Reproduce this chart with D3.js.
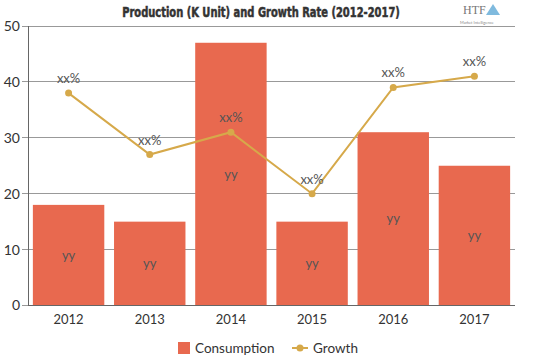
<!DOCTYPE html>
<html><head><meta charset="utf-8">
<script src="https://cdn.jsdelivr.net/npm/d3@7/dist/d3.min.js"></script>
<style>body{margin:0;background:#fff}svg{display:block}</style>
</head><body><svg id="c" width="539" height="359"></svg>
<script>
const categories = ["2012","2013","2014","2015","2016","2017"];
const consumption = [18,15,47,15,31,25];
const growth = [38,27,31,20,39,41];
const yTicks = [0,10,20,30,40,50];
const barLabels = ["yy","yy","yy","yy","yy","yy"];
const growthLabels = ["xx%","xx%","xx%","xx%","xx%","xx%"];

(function(){
const svg = d3.select("#c");
const pL = 28, pR = 515, pT = 26, pB = 305.5;
const x = d3.scaleBand().domain(categories).range([pL,pR]).paddingInner(0.12).paddingOuter(0.06);
const y = d3.scaleLinear().domain([0,50]).range([pB,pT]);
const barColor = "#e8694f", lineColor = "#d6a94a";
const font = "Lato, 'Open Sans', sans-serif";

svg.append("g").selectAll("line").data(yTicks).join("line")
  .attr("x1",22).attr("x2",pR).attr("y1",d=>y(d)).attr("y2",d=>y(d))
  .attr("stroke","#999").attr("stroke-width",1).attr("shape-rendering","crispEdges");
svg.append("g").selectAll("text").data(yTicks).join("text")
  .attr("x",20).attr("y",d=>y(d)).attr("dy","0.35em").attr("text-anchor","end")
  .attr("font-family",font).attr("font-size",14).attr("fill","#333").text(d=>d);
svg.append("line").attr("x1",pL).attr("x2",pL).attr("y1",pT).attr("y2",pB)
  .attr("stroke","#666").attr("shape-rendering","crispEdges");

svg.append("g").selectAll("rect").data(consumption).join("rect")
  .attr("x",(d,i)=>x(categories[i])).attr("width",x.bandwidth())
  .attr("y",d=>y(d)).attr("height",d=>pB-y(d)).attr("fill",barColor);
svg.append("g").selectAll("text").data(consumption).join("text")
  .attr("x",(d,i)=>x(categories[i])+x.bandwidth()/2).attr("y",d=>y(d/2)).attr("dy","0.35em")
  .attr("text-anchor","middle").attr("font-family",font).attr("font-size",13).attr("fill","#555")
  .text((d,i)=>barLabels[i]);

svg.append("line").attr("x1",pL).attr("x2",pR).attr("y1",pB).attr("y2",pB)
  .attr("stroke","#666").attr("shape-rendering","crispEdges");
svg.append("g").selectAll("text").data(categories).join("text")
  .attr("x",d=>x(d)+x.bandwidth()/2).attr("y",pB+14).attr("dy","0.35em").attr("text-anchor","middle")
  .attr("font-family",font).attr("font-size",13).attr("fill","#333").text(d=>d);

const line = d3.line().x((d,i)=>x(categories[i])+x.bandwidth()/2).y(d=>y(d));
svg.append("path").datum(growth).attr("d",line).attr("fill","none").attr("stroke",lineColor).attr("stroke-width",2);
svg.append("g").selectAll("circle").data(growth).join("circle")
  .attr("cx",(d,i)=>x(categories[i])+x.bandwidth()/2).attr("cy",d=>y(d)).attr("r",3.5).attr("fill",lineColor);
svg.append("g").selectAll("text").data(growth).join("text")
  .attr("x",(d,i)=>x(categories[i])+x.bandwidth()/2).attr("y",d=>y(d)-10)
  .attr("text-anchor","middle").attr("font-family",font).attr("font-size",13).attr("fill","#555")
  .text((d,i)=>growthLabels[i]);

const tg = svg.append("g");
const tt = tg.append("text").attr("x",0).attr("y",0).attr("text-anchor","middle")
  .attr("font-family","'Liberation Sans Narrow', 'DejaVu Sans Condensed', sans-serif").attr("font-weight","bold")
  .attr("font-size",14).attr("fill","#333").attr("stroke","#333").attr("stroke-width",0.5)
  .text("Production (K Unit) and Growth Rate (2012-2017)");
const tw = tt.node().getComputedTextLength();
tg.attr("transform",`translate(261,17) scale(${278/tw},1)`);

const lg = svg.append("g");
lg.append("text").attr("x",463).attr("y",14).attr("font-family","'Liberation Serif',serif").attr("font-size",12).attr("fill","#777").text("HTF");
lg.append("path").attr("d","M486,15 L493,4 L500,15 Z").attr("fill","#5fa9d6").attr("opacity",0.8);
lg.append("text").attr("x",460).attr("y",24).attr("font-family",font).attr("font-size",4).attr("fill","#888").text("Market Intelligence");

const ly = 348;
svg.append("rect").attr("x",178).attr("y",ly-6).attr("width",12).attr("height",12).attr("fill",barColor);
svg.append("text").attr("x",195).attr("y",ly).attr("dy","0.35em").attr("font-family",font).attr("font-size",13.5).attr("fill","#333").text("Consumption");
svg.append("line").attr("x1",292).attr("x2",308).attr("y1",ly).attr("y2",ly).attr("stroke",lineColor).attr("stroke-width",2);
svg.append("circle").attr("cx",300).attr("cy",ly).attr("r",3.5).attr("fill",lineColor);
svg.append("text").attr("x",313).attr("y",ly).attr("dy","0.35em").attr("font-family",font).attr("font-size",13.5).attr("fill","#333").text("Growth");
})();
</script></body></html>
